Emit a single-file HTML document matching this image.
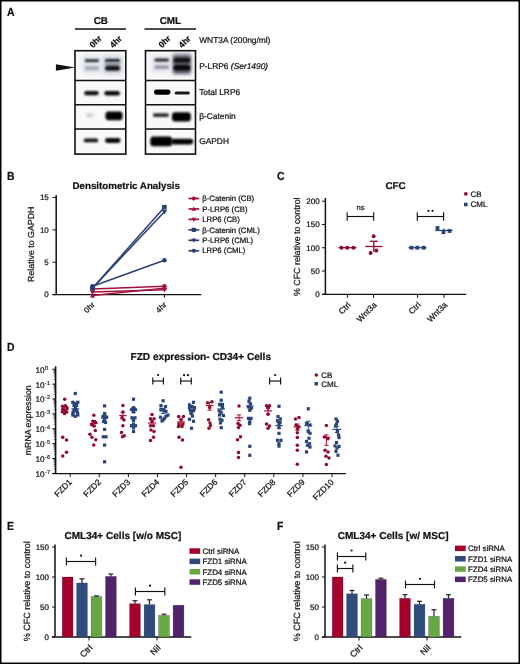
<!DOCTYPE html>
<html><head><meta charset="utf-8"><title>Figure</title>
<style>html,body{margin:0;padding:0;background:#fff;} svg{display:block;will-change:transform;} text{font-family:"Liberation Sans",sans-serif;text-rendering:geometricPrecision;}</style>
</head><body>
<svg width="520" height="664" viewBox="0 0 520 664" font-family="Liberation Sans, sans-serif"><defs><filter id="b3" x="-50%" y="-100%" width="200%" height="300%" color-interpolation-filters="sRGB"><feGaussianBlur stdDeviation="0.3"/></filter><filter id="b4" x="-50%" y="-100%" width="200%" height="300%" color-interpolation-filters="sRGB"><feGaussianBlur stdDeviation="0.4"/></filter><filter id="b5" x="-50%" y="-100%" width="200%" height="300%" color-interpolation-filters="sRGB"><feGaussianBlur stdDeviation="0.5"/></filter><filter id="b6" x="-50%" y="-100%" width="200%" height="300%" color-interpolation-filters="sRGB"><feGaussianBlur stdDeviation="0.6"/></filter><filter id="b7" x="-50%" y="-100%" width="200%" height="300%" color-interpolation-filters="sRGB"><feGaussianBlur stdDeviation="0.7"/></filter><filter id="b8" x="-50%" y="-100%" width="200%" height="300%" color-interpolation-filters="sRGB"><feGaussianBlur stdDeviation="0.8"/></filter><filter id="b9" x="-50%" y="-100%" width="200%" height="300%" color-interpolation-filters="sRGB"><feGaussianBlur stdDeviation="0.9"/></filter><filter id="b10" x="-50%" y="-100%" width="200%" height="300%" color-interpolation-filters="sRGB"><feGaussianBlur stdDeviation="1.0"/></filter><filter id="b11" x="-50%" y="-100%" width="200%" height="300%" color-interpolation-filters="sRGB"><feGaussianBlur stdDeviation="1.1"/></filter><filter id="b12" x="-50%" y="-100%" width="200%" height="300%" color-interpolation-filters="sRGB"><feGaussianBlur stdDeviation="1.2"/></filter><filter id="b13" x="-50%" y="-100%" width="200%" height="300%" color-interpolation-filters="sRGB"><feGaussianBlur stdDeviation="1.3"/></filter><filter id="b14" x="-50%" y="-100%" width="200%" height="300%" color-interpolation-filters="sRGB"><feGaussianBlur stdDeviation="1.4"/></filter><filter id="b15" x="-50%" y="-100%" width="200%" height="300%" color-interpolation-filters="sRGB"><feGaussianBlur stdDeviation="1.5"/></filter><filter id="b16" x="-50%" y="-100%" width="200%" height="300%" color-interpolation-filters="sRGB"><feGaussianBlur stdDeviation="1.6"/></filter><filter id="b17" x="-50%" y="-100%" width="200%" height="300%" color-interpolation-filters="sRGB"><feGaussianBlur stdDeviation="1.7"/></filter><filter id="b18" x="-50%" y="-100%" width="200%" height="300%" color-interpolation-filters="sRGB"><feGaussianBlur stdDeviation="1.8"/></filter><filter id="b19" x="-50%" y="-100%" width="200%" height="300%" color-interpolation-filters="sRGB"><feGaussianBlur stdDeviation="1.9"/></filter><filter id="b20" x="-50%" y="-100%" width="200%" height="300%" color-interpolation-filters="sRGB"><feGaussianBlur stdDeviation="2.0"/></filter><filter id="b21" x="-50%" y="-100%" width="200%" height="300%" color-interpolation-filters="sRGB"><feGaussianBlur stdDeviation="2.1"/></filter><filter id="b22" x="-50%" y="-100%" width="200%" height="300%" color-interpolation-filters="sRGB"><feGaussianBlur stdDeviation="2.2"/></filter><filter id="b23" x="-50%" y="-100%" width="200%" height="300%" color-interpolation-filters="sRGB"><feGaussianBlur stdDeviation="2.3"/></filter><filter id="b24" x="-50%" y="-100%" width="200%" height="300%" color-interpolation-filters="sRGB"><feGaussianBlur stdDeviation="2.4"/></filter><filter id="b25" x="-50%" y="-100%" width="200%" height="300%" color-interpolation-filters="sRGB"><feGaussianBlur stdDeviation="2.5"/></filter><filter id="b26" x="-50%" y="-100%" width="200%" height="300%" color-interpolation-filters="sRGB"><feGaussianBlur stdDeviation="2.6"/></filter><filter id="b27" x="-50%" y="-100%" width="200%" height="300%" color-interpolation-filters="sRGB"><feGaussianBlur stdDeviation="2.7"/></filter><filter id="b28" x="-50%" y="-100%" width="200%" height="300%" color-interpolation-filters="sRGB"><feGaussianBlur stdDeviation="2.8"/></filter><filter id="b29" x="-50%" y="-100%" width="200%" height="300%" color-interpolation-filters="sRGB"><feGaussianBlur stdDeviation="2.9"/></filter><filter id="b30" x="-50%" y="-100%" width="200%" height="300%" color-interpolation-filters="sRGB"><feGaussianBlur stdDeviation="3.0"/></filter></defs><rect x="0" y="0" width="520" height="664" fill="#fff"/><text x="0" y="0" font-size="10.6" font-weight="bold" fill="#111" stroke="#111" stroke-width="0.22" transform="translate(7 15.8) scale(0.98 1.1)">A</text>
<text x="100.8" y="24" font-size="9.9" font-weight="bold" text-anchor="middle" fill="#111" stroke="#111" stroke-width="0.22">CB</text>
<text x="170.4" y="24" font-size="9.9" font-weight="bold" text-anchor="middle" fill="#111" stroke="#111" stroke-width="0.22">CML</text>
<line x1="75" y1="29" x2="126" y2="29" stroke="#111" stroke-width="1.3"/>
<line x1="144.5" y1="29" x2="196" y2="29" stroke="#111" stroke-width="1.3"/>
<text x="93.0" y="48.2" font-size="8.5" font-weight="bold" text-anchor="start" fill="#111" stroke="#111" stroke-width="0.22" transform="rotate(-45 93.0 48.2)">0hr</text>
<text x="113.2" y="48.4" font-size="8.5" font-weight="bold" text-anchor="start" fill="#111" stroke="#111" stroke-width="0.22" transform="rotate(-45 113.2 48.4)">4hr</text>
<text x="162.0" y="48.2" font-size="8.5" font-weight="bold" text-anchor="start" fill="#111" stroke="#111" stroke-width="0.22" transform="rotate(-45 162.0 48.2)">0hr</text>
<text x="182.1" y="48.4" font-size="8.5" font-weight="bold" text-anchor="start" fill="#111" stroke="#111" stroke-width="0.22" transform="rotate(-45 182.1 48.4)">4hr</text>
<polygon points="55.9,64.2 75.2,67.4 55.9,70.7" fill="#111"/>
<text x="199.2" y="43" font-size="8.4" text-anchor="start" fill="#111" stroke="#111" stroke-width="0.22">WNT3A (200ng/ml)</text>
<text x="199.2" y="68.6" font-size="8.4" fill="#111" stroke="#111" stroke-width="0.22">P-LRP6 <tspan font-style="italic">(Ser1490)</tspan></text>
<text x="199.2" y="95.4" font-size="8.4" text-anchor="start" fill="#111" stroke="#111" stroke-width="0.22">Total LRP6</text>
<text x="199.2" y="119.4" font-size="8.4" text-anchor="start" fill="#111" stroke="#111" stroke-width="0.22">β-Catenin</text>
<text x="199.2" y="143.8" font-size="8.4" text-anchor="start" fill="#111" stroke="#111" stroke-width="0.22">GAPDH</text>
<rect x="75" y="50.7" width="50.8" height="103.4" fill="#f9f9fa"/>
<rect x="145.5" y="50.7" width="50.0" height="103.4" fill="#f9f9fa"/>
<rect x="82" y="55" width="19" height="19" rx="3" fill="#e2e5ec" filter="url(#b22)"/>
<rect x="102" y="55" width="21" height="20" rx="3" fill="#d2d6e0" filter="url(#b22)"/>
<rect x="151" y="55" width="21" height="18" rx="3" fill="#e4e6ec" filter="url(#b22)"/>
<rect x="172" y="53" width="20" height="22" rx="3" fill="#a4a6b0" filter="url(#b18)"/>
<rect x="84.7" y="59.2" width="14.299999999999997" height="2.8999999999999986" rx="1.4499999999999993" fill="#26262e" filter="url(#b8)"/>
<rect x="84.7" y="66.3" width="14.299999999999997" height="3.9000000000000057" rx="1.9500000000000028" fill="#a8a8b4" filter="url(#b11)"/>
<rect x="105" y="59.1" width="15" height="3.299999999999997" rx="1.6499999999999986" fill="#1e1e26" filter="url(#b8)"/>
<rect x="105" y="62" width="15" height="4.5" rx="2.25" fill="#9a9ca8" filter="url(#b10)"/>
<rect x="105" y="65.8" width="15" height="5.0" rx="2.5" fill="#141418" filter="url(#b8)"/>
<rect x="154.4" y="58.6" width="14.599999999999994" height="3.0" rx="1.5" fill="#202026" filter="url(#b8)"/>
<rect x="154.4" y="65.5" width="14.599999999999994" height="3.299999999999997" rx="1.6499999999999986" fill="#8e8e9a" filter="url(#b9)"/>
<rect x="173.6" y="55.5" width="16.599999999999994" height="17.700000000000003" rx="3" fill="#62646e" filter="url(#b13)"/>
<rect x="173.6" y="58" width="16.599999999999994" height="4.5" rx="2.25" fill="#0c0c10" filter="url(#b9)"/>
<rect x="173.6" y="65" width="16.599999999999994" height="5.5" rx="2.75" fill="#060608" filter="url(#b9)"/>
<rect x="84.2" y="91.1" width="14.5" height="4.200000000000003" rx="2.1000000000000014" fill="#0c0c0e" filter="url(#b8)"/>
<rect x="104.3" y="90.9" width="15.700000000000003" height="4.5" rx="2.25" fill="#060608" filter="url(#b8)"/>
<rect x="154" y="89.4" width="16.400000000000006" height="5.3999999999999915" rx="2.6999999999999957" fill="#000000" filter="url(#b7)"/>
<rect x="174.6" y="91.5" width="15.200000000000017" height="3.0" rx="1.5" fill="#1a1a20" filter="url(#b6)"/>
<rect x="86" y="113.2" width="7.400000000000006" height="4.3999999999999915" rx="2.1999999999999957" fill="#d0d0d8" filter="url(#b12)"/>
<rect x="105.5" y="111.4" width="17.0" height="8.799999999999997" rx="3" fill="#000000" filter="url(#b8)"/>
<rect x="152.75" y="113.2" width="16.25" height="3.799999999999997" rx="1.8999999999999986" fill="#2a2a32" filter="url(#b9)"/>
<rect x="172" y="112.2" width="18.80000000000001" height="9.200000000000003" rx="3" fill="#000000" filter="url(#b8)"/>
<rect x="83.7" y="138.5" width="14.5" height="3.8000000000000114" rx="1.9000000000000057" fill="#101012" filter="url(#b8)"/>
<rect x="105" y="138.1" width="15.5" height="4.800000000000011" rx="2.4000000000000057" fill="#060608" filter="url(#b8)"/>
<rect x="150.3" y="136.6" width="21.799999999999983" height="9.599999999999994" rx="3" fill="#000000" filter="url(#b8)"/>
<rect x="171" y="138.8" width="22.19999999999999" height="5.599999999999994" rx="2.799999999999997" fill="#000000" filter="url(#b8)"/>
<rect x="75" y="50.7" width="50.8" height="103.4" fill="none" stroke="#111" stroke-width="1.6"/>
<line x1="75" y1="80.5" x2="125.8" y2="80.5" stroke="#111" stroke-width="1.6"/>
<line x1="75" y1="104.75" x2="125.8" y2="104.75" stroke="#111" stroke-width="1.6"/>
<line x1="75" y1="129" x2="125.8" y2="129" stroke="#111" stroke-width="1.6"/>
<rect x="145.5" y="50.7" width="50.0" height="103.4" fill="none" stroke="#111" stroke-width="1.6"/>
<line x1="145.5" y1="80.5" x2="195.5" y2="80.5" stroke="#111" stroke-width="1.6"/>
<line x1="145.5" y1="104.75" x2="195.5" y2="104.75" stroke="#111" stroke-width="1.6"/>
<line x1="145.5" y1="129" x2="195.5" y2="129" stroke="#111" stroke-width="1.6"/>
<text x="0" y="0" font-size="10.6" font-weight="bold" fill="#111" stroke="#111" stroke-width="0.22" transform="translate(7 179.8) scale(0.98 1.1)">B</text>
<text x="72.5" y="189.3" font-size="9.75" font-weight="bold" text-anchor="start" fill="#111" stroke="#111" stroke-width="0.22">Densitometric Analysis</text>
<line x1="56.2" y1="195" x2="56.2" y2="294.6" stroke="#111" stroke-width="1.5"/>
<line x1="52.5" y1="294.6" x2="201.2" y2="294.6" stroke="#111" stroke-width="1.3"/>
<line x1="52.5" y1="294.6" x2="56.2" y2="294.6" stroke="#111" stroke-width="1.0"/>
<text x="48.8" y="297.40000000000003" font-size="8" text-anchor="end" fill="#111" stroke="#111" stroke-width="0.22">0</text>
<line x1="52.5" y1="262.23" x2="56.2" y2="262.23" stroke="#111" stroke-width="1.0"/>
<text x="48.8" y="265.03000000000003" font-size="8" text-anchor="end" fill="#111" stroke="#111" stroke-width="0.22">5</text>
<line x1="52.5" y1="229.86" x2="56.2" y2="229.86" stroke="#111" stroke-width="1.0"/>
<text x="48.8" y="232.66000000000003" font-size="8" text-anchor="end" fill="#111" stroke="#111" stroke-width="0.22">10</text>
<line x1="52.5" y1="197.49000000000004" x2="56.2" y2="197.49000000000004" stroke="#111" stroke-width="1.0"/>
<text x="48.8" y="200.29000000000005" font-size="8" text-anchor="end" fill="#111" stroke="#111" stroke-width="0.22">15</text>
<text x="34.1" y="244.3" font-size="8.8" text-anchor="middle" fill="#111" stroke="#111" stroke-width="0.22" transform="rotate(-90 34.1 244.3)">Relative to GAPDH</text>
<line x1="92.5" y1="294.6" x2="92.5" y2="297.8" stroke="#111" stroke-width="1.0"/>
<line x1="164.4" y1="294.6" x2="164.4" y2="297.8" stroke="#111" stroke-width="1.0"/>
<text x="95.3" y="305.3" font-size="8" text-anchor="end" fill="#111" stroke="#111" stroke-width="0.22" transform="rotate(-45 95.3 305.3)">0hr</text>
<text x="167.20000000000002" y="305.3" font-size="8" text-anchor="end" fill="#111" stroke="#111" stroke-width="0.22" transform="rotate(-45 167.20000000000002 305.3)">4hr</text>
<line x1="92.5" y1="289.0971" x2="164.4" y2="286.1838" stroke="#a5103a" stroke-width="1.5"/>
<line x1="92.5" y1="295.5711" x2="164.4" y2="288.12600000000003" stroke="#a5103a" stroke-width="1.5"/>
<line x1="92.5" y1="292.0104" x2="164.4" y2="289.7445" stroke="#a5103a" stroke-width="1.5"/>
<line x1="92.5" y1="288.12600000000003" x2="164.4" y2="207.20100000000002" stroke="#283f72" stroke-width="1.5"/>
<line x1="92.5" y1="288.12600000000003" x2="164.4" y2="211.73280000000003" stroke="#283f72" stroke-width="1.5"/>
<line x1="92.5" y1="286.1838" x2="164.4" y2="260.2878" stroke="#283f72" stroke-width="1.5"/>
<circle cx="92.5" cy="289.0971" r="2.3" fill="#a5103a"/>
<circle cx="164.4" cy="286.1838" r="2.3" fill="#a5103a"/>
<polygon points="92.5,292.8111 95.03,297.4111 89.97,297.4111" fill="#a5103a"/>
<polygon points="164.4,285.36600000000004 166.93,289.966 161.87,289.966" fill="#a5103a"/>
<polygon points="92.5,294.7704 95.03,290.17040000000003 89.97,290.17040000000003" fill="#a5103a"/>
<polygon points="164.4,292.5045 166.93,287.90450000000004 161.87,287.90450000000004" fill="#a5103a"/>
<rect x="90.2" y="285.826" width="4.6" height="4.6" fill="#283f72"/>
<rect x="162.1" y="204.901" width="4.6" height="4.6" fill="#283f72"/>
<polygon points="92.5,290.886 95.03,286.28600000000006 89.97,286.28600000000006" fill="#283f72"/>
<polygon points="164.4,214.49280000000002 166.93,209.89280000000002 161.87,209.89280000000002" fill="#283f72"/>
<circle cx="92.5" cy="286.1838" r="2.3" fill="#283f72"/>
<circle cx="164.4" cy="260.2878" r="2.3" fill="#283f72"/>
<line x1="188.5" y1="198.5" x2="199.2" y2="198.5" stroke="#a5103a" stroke-width="1.7"/>
<circle cx="193.8" cy="198.5" r="2.1" fill="#a5103a"/>
<text x="202.3" y="201.2" font-size="7.75" text-anchor="start" fill="#111" stroke="#111" stroke-width="0.22">β-Catenin (CB)</text>
<line x1="188.5" y1="208.95" x2="199.2" y2="208.95" stroke="#a5103a" stroke-width="1.7"/>
<polygon points="193.8,206.42999999999998 196.11,210.63 191.49,210.63" fill="#a5103a"/>
<text x="202.3" y="211.64999999999998" font-size="7.75" text-anchor="start" fill="#111" stroke="#111" stroke-width="0.22">P-LRP6 (CB)</text>
<line x1="188.5" y1="219.4" x2="199.2" y2="219.4" stroke="#a5103a" stroke-width="1.7"/>
<polygon points="193.8,221.92000000000002 196.11,217.72 191.49,217.72" fill="#a5103a"/>
<text x="202.3" y="222.1" font-size="7.75" text-anchor="start" fill="#111" stroke="#111" stroke-width="0.22">LRP6 (CB)</text>
<line x1="188.5" y1="229.85" x2="199.2" y2="229.85" stroke="#283f72" stroke-width="1.7"/>
<rect x="191.70000000000002" y="227.75" width="4.2" height="4.2" fill="#283f72"/>
<text x="202.3" y="232.54999999999998" font-size="7.75" text-anchor="start" fill="#111" stroke="#111" stroke-width="0.22">β-Catenin (CML)</text>
<line x1="188.5" y1="240.3" x2="199.2" y2="240.3" stroke="#283f72" stroke-width="1.7"/>
<polygon points="193.8,242.82000000000002 196.11,238.62 191.49,238.62" fill="#283f72"/>
<text x="202.3" y="243.0" font-size="7.75" text-anchor="start" fill="#111" stroke="#111" stroke-width="0.22">P-LRP6 (CML)</text>
<line x1="188.5" y1="250.75" x2="199.2" y2="250.75" stroke="#283f72" stroke-width="1.7"/>
<circle cx="193.8" cy="250.75" r="2.1" fill="#283f72"/>
<text x="202.3" y="253.45" font-size="7.75" text-anchor="start" fill="#111" stroke="#111" stroke-width="0.22">LRP6 (CML)</text>
<text x="0" y="0" font-size="10.6" font-weight="bold" fill="#111" stroke="#111" stroke-width="0.22" transform="translate(277 179.8) scale(0.98 1.1)">C</text>
<text x="385.5" y="188.8" font-size="9.85" font-weight="bold" text-anchor="start" fill="#111" stroke="#111" stroke-width="0.22">CFC</text>
<line x1="325.4" y1="198" x2="325.4" y2="294.3" stroke="#111" stroke-width="1.5"/>
<line x1="322" y1="294.3" x2="466.3" y2="294.3" stroke="#111" stroke-width="1.3"/>
<line x1="322" y1="294.3" x2="325.4" y2="294.3" stroke="#111" stroke-width="1.0"/>
<text x="319.6" y="297.1" font-size="8" text-anchor="end" fill="#111" stroke="#111" stroke-width="0.22">0</text>
<line x1="322" y1="271.03000000000003" x2="325.4" y2="271.03000000000003" stroke="#111" stroke-width="1.0"/>
<text x="319.6" y="273.83000000000004" font-size="8" text-anchor="end" fill="#111" stroke="#111" stroke-width="0.22">50</text>
<line x1="322" y1="247.76000000000002" x2="325.4" y2="247.76000000000002" stroke="#111" stroke-width="1.0"/>
<text x="319.6" y="250.56000000000003" font-size="8" text-anchor="end" fill="#111" stroke="#111" stroke-width="0.22">100</text>
<line x1="322" y1="224.49" x2="325.4" y2="224.49" stroke="#111" stroke-width="1.0"/>
<text x="319.6" y="227.29000000000002" font-size="8" text-anchor="end" fill="#111" stroke="#111" stroke-width="0.22">150</text>
<line x1="322" y1="201.22000000000003" x2="325.4" y2="201.22000000000003" stroke="#111" stroke-width="1.0"/>
<text x="319.6" y="204.02000000000004" font-size="8" text-anchor="end" fill="#111" stroke="#111" stroke-width="0.22">200</text>
<text x="300.2" y="246.75" font-size="8.9" text-anchor="middle" fill="#111" stroke="#111" stroke-width="0.22" transform="rotate(-90 300.2 246.75)">% CFC relative to control</text>
<line x1="347.4" y1="294.3" x2="347.4" y2="297.8" stroke="#111" stroke-width="1.0"/>
<text x="351.2" y="305.5" font-size="8.4" text-anchor="end" fill="#111" stroke="#111" stroke-width="0.22" transform="rotate(-45 351.2 305.5)">Ctrl</text>
<line x1="373.5" y1="294.3" x2="373.5" y2="297.8" stroke="#111" stroke-width="1.0"/>
<text x="377.3" y="305.5" font-size="8.4" text-anchor="end" fill="#111" stroke="#111" stroke-width="0.22" transform="rotate(-45 377.3 305.5)">Wnt3a</text>
<line x1="417.5" y1="294.3" x2="417.5" y2="297.8" stroke="#111" stroke-width="1.0"/>
<text x="421.3" y="305.5" font-size="8.4" text-anchor="end" fill="#111" stroke="#111" stroke-width="0.22" transform="rotate(-45 421.3 305.5)">Ctrl</text>
<line x1="444" y1="294.3" x2="444" y2="297.8" stroke="#111" stroke-width="1.0"/>
<text x="447.8" y="305.5" font-size="8.4" text-anchor="end" fill="#111" stroke="#111" stroke-width="0.22" transform="rotate(-45 447.8 305.5)">Wnt3a</text>
<line x1="347.2" y1="216.5" x2="373.7" y2="216.5" stroke="#111" stroke-width="1.15"/>
<line x1="347.2" y1="212.3" x2="347.2" y2="220.7" stroke="#111" stroke-width="1.15"/>
<line x1="373.7" y1="212.3" x2="373.7" y2="220.7" stroke="#111" stroke-width="1.15"/>
<text x="360.45" y="210.4" font-size="7.6" text-anchor="middle" fill="#111" stroke="#111" stroke-width="0.22">ns</text>
<line x1="417.3" y1="216.5" x2="443.6" y2="216.5" stroke="#111" stroke-width="1.15"/>
<line x1="417.3" y1="212.3" x2="417.3" y2="220.7" stroke="#111" stroke-width="1.15"/>
<line x1="443.6" y1="212.3" x2="443.6" y2="220.7" stroke="#111" stroke-width="1.15"/>
<circle cx="428.35" cy="210.8" r="1.1" fill="#111"/>
<circle cx="432.55000000000007" cy="210.8" r="1.1" fill="#111"/>
<circle cx="465.8" cy="193.8" r="1.9" fill="#8e0a2e"/>
<text x="470.5" y="196.8" font-size="8" text-anchor="start" fill="#111" stroke="#111" stroke-width="0.22">CB</text>
<rect x="464" y="202.7" width="3.6" height="3.6" fill="#2a4475"/>
<text x="470.5" y="206.7" font-size="8" text-anchor="start" fill="#111" stroke="#111" stroke-width="0.22">CML</text>
<line x1="338.5" y1="247.7" x2="356.5" y2="247.7" stroke="#8e0a2e" stroke-width="1.3"/>
<circle cx="341.5" cy="247.7" r="2.0" fill="#8e0a2e"/>
<circle cx="347.3" cy="247.7" r="2.0" fill="#8e0a2e"/>
<circle cx="353.4" cy="247.7" r="2.0" fill="#8e0a2e"/>
<line x1="365.2" y1="246.5" x2="382.5" y2="246.5" stroke="#8e0a2e" stroke-width="1.3"/>
<line x1="373.8" y1="241.3" x2="373.8" y2="251.8" stroke="#8e0a2e" stroke-width="1.3"/>
<line x1="369.8" y1="241.3" x2="377.9" y2="241.3" stroke="#8e0a2e" stroke-width="1.3"/>
<circle cx="373.6" cy="236.2" r="2.0" fill="#8e0a2e"/>
<circle cx="370.6" cy="252.9" r="2.0" fill="#8e0a2e"/>
<circle cx="376.4" cy="250.6" r="2.0" fill="#8e0a2e"/>
<line x1="408.5" y1="247.7" x2="426.5" y2="247.7" stroke="#2a4475" stroke-width="1.3"/>
<rect x="409.6" y="245.79999999999998" width="3.8" height="3.8" fill="#2a4475"/>
<rect x="415.40000000000003" y="245.79999999999998" width="3.8" height="3.8" fill="#2a4475"/>
<rect x="421.8" y="245.79999999999998" width="3.8" height="3.8" fill="#2a4475"/>
<line x1="435.2" y1="230.4" x2="452.5" y2="230.4" stroke="#2a4475" stroke-width="1.3"/>
<line x1="443.8" y1="228.5" x2="443.8" y2="232.5" stroke="#2a4475" stroke-width="1.3"/>
<rect x="435.6" y="226.1" width="3.8" height="3.8" fill="#2a4475"/>
<rect x="441.6" y="230.29999999999998" width="3.8" height="3.8" fill="#2a4475"/>
<rect x="447.6" y="229.1" width="3.8" height="3.8" fill="#2a4475"/>
<text x="0" y="0" font-size="10.6" font-weight="bold" fill="#111" stroke="#111" stroke-width="0.22" transform="translate(7 351) scale(0.98 1.1)">D</text>
<text x="130.5" y="360.3" font-size="10.1" font-weight="bold" text-anchor="start" fill="#111" stroke="#111" stroke-width="0.22">FZD expression- CD34+ Cells</text>
<line x1="55.6" y1="366.3" x2="55.6" y2="473.6" stroke="#111" stroke-width="1.6"/>
<line x1="52.3" y1="473.6" x2="346" y2="473.6" stroke="#111" stroke-width="1.3"/>
<line x1="52.3" y1="369.25" x2="55.6" y2="369.25" stroke="#111" stroke-width="1.0"/>
<text x="44.6" y="372.65" font-size="8.2" text-anchor="end" fill="#111" stroke="#111" stroke-width="0.22">10</text>
<text x="45.1" y="369.65" font-size="5.6" fill="#111" stroke="#111" stroke-width="0.15">0</text>
<line x1="53.6" y1="379.65067366451996" x2="55.6" y2="379.65067366451996" stroke="#111" stroke-width="0.6"/>
<line x1="53.6" y1="377.0304357297714" x2="55.6" y2="377.0304357297714" stroke="#111" stroke-width="0.6"/>
<line x1="53.6" y1="375.1713473290399" x2="55.6" y2="375.1713473290399" stroke="#111" stroke-width="0.6"/>
<line x1="53.6" y1="373.72932633548004" x2="55.6" y2="373.72932633548004" stroke="#111" stroke-width="0.6"/>
<line x1="53.6" y1="372.55110939429136" x2="55.6" y2="372.55110939429136" stroke="#111" stroke-width="0.6"/>
<line x1="53.6" y1="371.55494116458783" x2="55.6" y2="371.55494116458783" stroke="#111" stroke-width="0.6"/>
<line x1="53.6" y1="370.6920209935599" x2="55.6" y2="370.6920209935599" stroke="#111" stroke-width="0.6"/>
<line x1="53.6" y1="369.93087145954286" x2="55.6" y2="369.93087145954286" stroke="#111" stroke-width="0.6"/>
<line x1="52.3" y1="384.13" x2="55.6" y2="384.13" stroke="#111" stroke-width="1.0"/>
<text x="44.6" y="387.53" font-size="8.2" text-anchor="end" fill="#111" stroke="#111" stroke-width="0.22">10</text>
<text x="45.1" y="384.53" font-size="5.6" fill="#111" stroke="#111" stroke-width="0.15">-1</text>
<line x1="53.6" y1="394.53067366451995" x2="55.6" y2="394.53067366451995" stroke="#111" stroke-width="0.6"/>
<line x1="53.6" y1="391.9104357297714" x2="55.6" y2="391.9104357297714" stroke="#111" stroke-width="0.6"/>
<line x1="53.6" y1="390.0513473290399" x2="55.6" y2="390.0513473290399" stroke="#111" stroke-width="0.6"/>
<line x1="53.6" y1="388.60932633548003" x2="55.6" y2="388.60932633548003" stroke="#111" stroke-width="0.6"/>
<line x1="53.6" y1="387.43110939429135" x2="55.6" y2="387.43110939429135" stroke="#111" stroke-width="0.6"/>
<line x1="53.6" y1="386.4349411645878" x2="55.6" y2="386.4349411645878" stroke="#111" stroke-width="0.6"/>
<line x1="53.6" y1="385.5720209935599" x2="55.6" y2="385.5720209935599" stroke="#111" stroke-width="0.6"/>
<line x1="53.6" y1="384.81087145954285" x2="55.6" y2="384.81087145954285" stroke="#111" stroke-width="0.6"/>
<line x1="52.3" y1="399.01" x2="55.6" y2="399.01" stroke="#111" stroke-width="1.0"/>
<text x="44.6" y="402.40999999999997" font-size="8.2" text-anchor="end" fill="#111" stroke="#111" stroke-width="0.22">10</text>
<text x="45.1" y="399.40999999999997" font-size="5.6" fill="#111" stroke="#111" stroke-width="0.15">-2</text>
<line x1="53.6" y1="409.41067366451995" x2="55.6" y2="409.41067366451995" stroke="#111" stroke-width="0.6"/>
<line x1="53.6" y1="406.7904357297714" x2="55.6" y2="406.7904357297714" stroke="#111" stroke-width="0.6"/>
<line x1="53.6" y1="404.9313473290399" x2="55.6" y2="404.9313473290399" stroke="#111" stroke-width="0.6"/>
<line x1="53.6" y1="403.48932633548003" x2="55.6" y2="403.48932633548003" stroke="#111" stroke-width="0.6"/>
<line x1="53.6" y1="402.31110939429135" x2="55.6" y2="402.31110939429135" stroke="#111" stroke-width="0.6"/>
<line x1="53.6" y1="401.3149411645878" x2="55.6" y2="401.3149411645878" stroke="#111" stroke-width="0.6"/>
<line x1="53.6" y1="400.45202099355987" x2="55.6" y2="400.45202099355987" stroke="#111" stroke-width="0.6"/>
<line x1="53.6" y1="399.69087145954285" x2="55.6" y2="399.69087145954285" stroke="#111" stroke-width="0.6"/>
<line x1="52.3" y1="413.89" x2="55.6" y2="413.89" stroke="#111" stroke-width="1.0"/>
<text x="44.6" y="417.28999999999996" font-size="8.2" text-anchor="end" fill="#111" stroke="#111" stroke-width="0.22">10</text>
<text x="45.1" y="414.28999999999996" font-size="5.6" fill="#111" stroke="#111" stroke-width="0.15">-3</text>
<line x1="53.6" y1="424.29067366451994" x2="55.6" y2="424.29067366451994" stroke="#111" stroke-width="0.6"/>
<line x1="53.6" y1="421.6704357297714" x2="55.6" y2="421.6704357297714" stroke="#111" stroke-width="0.6"/>
<line x1="53.6" y1="419.8113473290399" x2="55.6" y2="419.8113473290399" stroke="#111" stroke-width="0.6"/>
<line x1="53.6" y1="418.36932633548" x2="55.6" y2="418.36932633548" stroke="#111" stroke-width="0.6"/>
<line x1="53.6" y1="417.19110939429135" x2="55.6" y2="417.19110939429135" stroke="#111" stroke-width="0.6"/>
<line x1="53.6" y1="416.1949411645878" x2="55.6" y2="416.1949411645878" stroke="#111" stroke-width="0.6"/>
<line x1="53.6" y1="415.33202099355987" x2="55.6" y2="415.33202099355987" stroke="#111" stroke-width="0.6"/>
<line x1="53.6" y1="414.57087145954284" x2="55.6" y2="414.57087145954284" stroke="#111" stroke-width="0.6"/>
<line x1="52.3" y1="428.77" x2="55.6" y2="428.77" stroke="#111" stroke-width="1.0"/>
<text x="44.6" y="432.16999999999996" font-size="8.2" text-anchor="end" fill="#111" stroke="#111" stroke-width="0.22">10</text>
<text x="45.1" y="429.16999999999996" font-size="5.6" fill="#111" stroke="#111" stroke-width="0.15">-4</text>
<line x1="53.6" y1="439.17067366451994" x2="55.6" y2="439.17067366451994" stroke="#111" stroke-width="0.6"/>
<line x1="53.6" y1="436.5504357297714" x2="55.6" y2="436.5504357297714" stroke="#111" stroke-width="0.6"/>
<line x1="53.6" y1="434.6913473290399" x2="55.6" y2="434.6913473290399" stroke="#111" stroke-width="0.6"/>
<line x1="53.6" y1="433.24932633548" x2="55.6" y2="433.24932633548" stroke="#111" stroke-width="0.6"/>
<line x1="53.6" y1="432.07110939429134" x2="55.6" y2="432.07110939429134" stroke="#111" stroke-width="0.6"/>
<line x1="53.6" y1="431.0749411645878" x2="55.6" y2="431.0749411645878" stroke="#111" stroke-width="0.6"/>
<line x1="53.6" y1="430.21202099355986" x2="55.6" y2="430.21202099355986" stroke="#111" stroke-width="0.6"/>
<line x1="53.6" y1="429.45087145954284" x2="55.6" y2="429.45087145954284" stroke="#111" stroke-width="0.6"/>
<line x1="52.3" y1="443.65" x2="55.6" y2="443.65" stroke="#111" stroke-width="1.0"/>
<text x="44.6" y="447.04999999999995" font-size="8.2" text-anchor="end" fill="#111" stroke="#111" stroke-width="0.22">10</text>
<text x="45.1" y="444.04999999999995" font-size="5.6" fill="#111" stroke="#111" stroke-width="0.15">-5</text>
<line x1="53.6" y1="454.05067366451993" x2="55.6" y2="454.05067366451993" stroke="#111" stroke-width="0.6"/>
<line x1="53.6" y1="451.4304357297714" x2="55.6" y2="451.4304357297714" stroke="#111" stroke-width="0.6"/>
<line x1="53.6" y1="449.5713473290399" x2="55.6" y2="449.5713473290399" stroke="#111" stroke-width="0.6"/>
<line x1="53.6" y1="448.12932633548" x2="55.6" y2="448.12932633548" stroke="#111" stroke-width="0.6"/>
<line x1="53.6" y1="446.95110939429134" x2="55.6" y2="446.95110939429134" stroke="#111" stroke-width="0.6"/>
<line x1="53.6" y1="445.9549411645878" x2="55.6" y2="445.9549411645878" stroke="#111" stroke-width="0.6"/>
<line x1="53.6" y1="445.09202099355986" x2="55.6" y2="445.09202099355986" stroke="#111" stroke-width="0.6"/>
<line x1="53.6" y1="444.33087145954283" x2="55.6" y2="444.33087145954283" stroke="#111" stroke-width="0.6"/>
<line x1="52.3" y1="458.53" x2="55.6" y2="458.53" stroke="#111" stroke-width="1.0"/>
<text x="44.6" y="461.92999999999995" font-size="8.2" text-anchor="end" fill="#111" stroke="#111" stroke-width="0.22">10</text>
<text x="45.1" y="458.92999999999995" font-size="5.6" fill="#111" stroke="#111" stroke-width="0.15">-6</text>
<line x1="53.6" y1="468.93067366451993" x2="55.6" y2="468.93067366451993" stroke="#111" stroke-width="0.6"/>
<line x1="53.6" y1="466.31043572977137" x2="55.6" y2="466.31043572977137" stroke="#111" stroke-width="0.6"/>
<line x1="53.6" y1="464.4513473290399" x2="55.6" y2="464.4513473290399" stroke="#111" stroke-width="0.6"/>
<line x1="53.6" y1="463.00932633548" x2="55.6" y2="463.00932633548" stroke="#111" stroke-width="0.6"/>
<line x1="53.6" y1="461.83110939429133" x2="55.6" y2="461.83110939429133" stroke="#111" stroke-width="0.6"/>
<line x1="53.6" y1="460.8349411645878" x2="55.6" y2="460.8349411645878" stroke="#111" stroke-width="0.6"/>
<line x1="53.6" y1="459.97202099355985" x2="55.6" y2="459.97202099355985" stroke="#111" stroke-width="0.6"/>
<line x1="53.6" y1="459.21087145954283" x2="55.6" y2="459.21087145954283" stroke="#111" stroke-width="0.6"/>
<line x1="52.3" y1="473.41" x2="55.6" y2="473.41" stroke="#111" stroke-width="1.0"/>
<text x="44.6" y="476.81" font-size="8.2" text-anchor="end" fill="#111" stroke="#111" stroke-width="0.22">10</text>
<text x="45.1" y="473.81" font-size="5.6" fill="#111" stroke="#111" stroke-width="0.15">-7</text>
<text x="30.6" y="420.25" font-size="8.74" text-anchor="middle" fill="#111" stroke="#111" stroke-width="0.22" transform="rotate(-90 30.6 420.25)">mRNA expression</text>
<line x1="70.2" y1="473.6" x2="70.2" y2="477" stroke="#111" stroke-width="1.0"/>
<text x="72.5" y="482.6" font-size="8.4" text-anchor="end" fill="#111" stroke="#111" stroke-width="0.22" transform="rotate(-45 72.5 482.6)">FZD1</text>
<line x1="99.29" y1="473.6" x2="99.29" y2="477" stroke="#111" stroke-width="1.0"/>
<text x="101.59" y="482.6" font-size="8.4" text-anchor="end" fill="#111" stroke="#111" stroke-width="0.22" transform="rotate(-45 101.59 482.6)">FZD2</text>
<line x1="128.38" y1="473.6" x2="128.38" y2="477" stroke="#111" stroke-width="1.0"/>
<text x="130.68" y="482.6" font-size="8.4" text-anchor="end" fill="#111" stroke="#111" stroke-width="0.22" transform="rotate(-45 130.68 482.6)">FZD3</text>
<line x1="157.47" y1="473.6" x2="157.47" y2="477" stroke="#111" stroke-width="1.0"/>
<text x="159.77" y="482.6" font-size="8.4" text-anchor="end" fill="#111" stroke="#111" stroke-width="0.22" transform="rotate(-45 159.77 482.6)">FZD4</text>
<line x1="186.56" y1="473.6" x2="186.56" y2="477" stroke="#111" stroke-width="1.0"/>
<text x="188.86" y="482.6" font-size="8.4" text-anchor="end" fill="#111" stroke="#111" stroke-width="0.22" transform="rotate(-45 188.86 482.6)">FZD5</text>
<line x1="215.64999999999998" y1="473.6" x2="215.64999999999998" y2="477" stroke="#111" stroke-width="1.0"/>
<text x="217.95" y="482.6" font-size="8.4" text-anchor="end" fill="#111" stroke="#111" stroke-width="0.22" transform="rotate(-45 217.95 482.6)">FZD6</text>
<line x1="244.74" y1="473.6" x2="244.74" y2="477" stroke="#111" stroke-width="1.0"/>
<text x="247.04000000000002" y="482.6" font-size="8.4" text-anchor="end" fill="#111" stroke="#111" stroke-width="0.22" transform="rotate(-45 247.04000000000002 482.6)">FZD7</text>
<line x1="273.83" y1="473.6" x2="273.83" y2="477" stroke="#111" stroke-width="1.0"/>
<text x="276.13" y="482.6" font-size="8.4" text-anchor="end" fill="#111" stroke="#111" stroke-width="0.22" transform="rotate(-45 276.13 482.6)">FZD8</text>
<line x1="302.92" y1="473.6" x2="302.92" y2="477" stroke="#111" stroke-width="1.0"/>
<text x="305.22" y="482.6" font-size="8.4" text-anchor="end" fill="#111" stroke="#111" stroke-width="0.22" transform="rotate(-45 305.22 482.6)">FZD9</text>
<line x1="332.01" y1="473.6" x2="332.01" y2="477" stroke="#111" stroke-width="1.0"/>
<text x="334.31" y="482.6" font-size="8.4" text-anchor="end" fill="#111" stroke="#111" stroke-width="0.22" transform="rotate(-45 334.31 482.6)">FZD10</text>
<circle cx="316.3" cy="375" r="1.8" fill="#8e0a2e"/>
<text x="321.3" y="377.8" font-size="8" text-anchor="start" fill="#111" stroke="#111" stroke-width="0.22">CB</text>
<rect x="314.5" y="382" width="3.5" height="3.5" fill="#2a4475"/>
<text x="321.3" y="386.6" font-size="8" text-anchor="start" fill="#111" stroke="#111" stroke-width="0.22">CML</text>
<line x1="152.8" y1="381" x2="163.4" y2="381" stroke="#111" stroke-width="1.15"/>
<line x1="152.8" y1="377.6" x2="152.8" y2="384.4" stroke="#111" stroke-width="1.15"/>
<line x1="163.4" y1="377.6" x2="163.4" y2="384.4" stroke="#111" stroke-width="1.15"/>
<circle cx="158.10000000000002" cy="375" r="1.12" fill="#111"/>
<line x1="180.7" y1="381" x2="191.3" y2="381" stroke="#111" stroke-width="1.15"/>
<line x1="180.7" y1="377.6" x2="180.7" y2="384.4" stroke="#111" stroke-width="1.15"/>
<line x1="191.3" y1="377.6" x2="191.3" y2="384.4" stroke="#111" stroke-width="1.15"/>
<circle cx="184.1" cy="375.2" r="1.12" fill="#111"/>
<circle cx="187.9" cy="375.2" r="1.12" fill="#111"/>
<line x1="269.6" y1="381" x2="280.6" y2="381" stroke="#111" stroke-width="1.15"/>
<line x1="269.6" y1="377.6" x2="269.6" y2="384.4" stroke="#111" stroke-width="1.15"/>
<line x1="280.6" y1="377.6" x2="280.6" y2="384.4" stroke="#111" stroke-width="1.15"/>
<circle cx="275.1" cy="375" r="1.12" fill="#111"/>
<line x1="60.7" y1="409.5" x2="68.7" y2="409.5" stroke="#b80c36" stroke-width="1.2"/>
<line x1="64.7" y1="407" x2="64.7" y2="412" stroke="#b80c36" stroke-width="1.0"/>
<line x1="62.5" y1="407" x2="66.9" y2="407" stroke="#b80c36" stroke-width="1.0"/>
<line x1="62.5" y1="412" x2="66.9" y2="412" stroke="#b80c36" stroke-width="1.0"/>
<line x1="71.3" y1="409" x2="79.3" y2="409" stroke="#2f4f86" stroke-width="1.2"/>
<line x1="75.3" y1="406" x2="75.3" y2="412" stroke="#2f4f86" stroke-width="1.0"/>
<line x1="73.1" y1="406" x2="77.5" y2="406" stroke="#2f4f86" stroke-width="1.0"/>
<line x1="73.1" y1="412" x2="77.5" y2="412" stroke="#2f4f86" stroke-width="1.0"/>
<circle cx="64.7" cy="399.3" r="1.75" fill="#8e0a2e"/>
<circle cx="62.5" cy="406.3" r="1.75" fill="#8e0a2e"/>
<circle cx="65.5" cy="405.8" r="1.75" fill="#8e0a2e"/>
<circle cx="67" cy="407.8" r="1.75" fill="#8e0a2e"/>
<circle cx="63" cy="409" r="1.75" fill="#8e0a2e"/>
<circle cx="65" cy="410.5" r="1.75" fill="#8e0a2e"/>
<circle cx="62.3" cy="411.8" r="1.75" fill="#8e0a2e"/>
<circle cx="66.8" cy="412" r="1.75" fill="#8e0a2e"/>
<circle cx="64.5" cy="413.6" r="1.75" fill="#8e0a2e"/>
<circle cx="62.7" cy="437.2" r="1.75" fill="#8e0a2e"/>
<circle cx="66.5" cy="440" r="1.75" fill="#8e0a2e"/>
<circle cx="66.5" cy="452.2" r="1.75" fill="#8e0a2e"/>
<circle cx="62.7" cy="456" r="1.75" fill="#8e0a2e"/>
<rect x="73.7" y="391.9" width="3.2" height="3.2" fill="#2a4475"/>
<rect x="71.2" y="400.7" width="3.2" height="3.2" fill="#2a4475"/>
<rect x="76.2" y="400.7" width="3.2" height="3.2" fill="#2a4475"/>
<rect x="73.7" y="401.9" width="3.2" height="3.2" fill="#2a4475"/>
<rect x="72.4" y="403.9" width="3.2" height="3.2" fill="#2a4475"/>
<rect x="75.0" y="403.9" width="3.2" height="3.2" fill="#2a4475"/>
<rect x="73.7" y="406.09999999999997" width="3.2" height="3.2" fill="#2a4475"/>
<rect x="72.4" y="408.4" width="3.2" height="3.2" fill="#2a4475"/>
<rect x="75.0" y="408.4" width="3.2" height="3.2" fill="#2a4475"/>
<rect x="71.4" y="410.9" width="3.2" height="3.2" fill="#2a4475"/>
<rect x="75.9" y="410.9" width="3.2" height="3.2" fill="#2a4475"/>
<rect x="71.2" y="413.4" width="3.2" height="3.2" fill="#2a4475"/>
<rect x="76.2" y="413.4" width="3.2" height="3.2" fill="#2a4475"/>
<rect x="73.7" y="414.7" width="3.2" height="3.2" fill="#2a4475"/>
<line x1="90.0" y1="423.5" x2="97.6" y2="423.5" stroke="#b80c36" stroke-width="1.2"/>
<line x1="93.8" y1="420.5" x2="93.8" y2="426.5" stroke="#b80c36" stroke-width="1.0"/>
<line x1="91.6" y1="420.5" x2="96.0" y2="420.5" stroke="#b80c36" stroke-width="1.0"/>
<line x1="91.6" y1="426.5" x2="96.0" y2="426.5" stroke="#b80c36" stroke-width="1.0"/>
<line x1="100.8" y1="418" x2="108.39999999999999" y2="418" stroke="#2f4f86" stroke-width="1.2"/>
<line x1="104.6" y1="415" x2="104.6" y2="421" stroke="#2f4f86" stroke-width="1.0"/>
<line x1="102.39999999999999" y1="415" x2="106.8" y2="415" stroke="#2f4f86" stroke-width="1.0"/>
<line x1="102.39999999999999" y1="421" x2="106.8" y2="421" stroke="#2f4f86" stroke-width="1.0"/>
<circle cx="93.8" cy="415.2" r="1.75" fill="#8e0a2e"/>
<circle cx="93" cy="421.2" r="1.75" fill="#8e0a2e"/>
<circle cx="95.6" cy="422.6" r="1.75" fill="#8e0a2e"/>
<circle cx="91.6" cy="424.4" r="1.75" fill="#8e0a2e"/>
<circle cx="94.2" cy="426" r="1.75" fill="#8e0a2e"/>
<circle cx="95.3" cy="430.4" r="1.75" fill="#8e0a2e"/>
<circle cx="89.9" cy="434.3" r="1.75" fill="#8e0a2e"/>
<circle cx="91.9" cy="437.3" r="1.75" fill="#8e0a2e"/>
<circle cx="95.8" cy="439.7" r="1.75" fill="#8e0a2e"/>
<circle cx="93.8" cy="445.1" r="1.75" fill="#8e0a2e"/>
<rect x="103.0" y="404.29999999999995" width="3.2" height="3.2" fill="#2a4475"/>
<rect x="103.0" y="411.9" width="3.2" height="3.2" fill="#2a4475"/>
<rect x="101.4" y="414.9" width="3.2" height="3.2" fill="#2a4475"/>
<rect x="104.9" y="415.4" width="3.2" height="3.2" fill="#2a4475"/>
<rect x="103.0" y="417.4" width="3.2" height="3.2" fill="#2a4475"/>
<rect x="101.9" y="419.9" width="3.2" height="3.2" fill="#2a4475"/>
<rect x="103.9" y="420.9" width="3.2" height="3.2" fill="#2a4475"/>
<rect x="103.0" y="427.79999999999995" width="3.2" height="3.2" fill="#2a4475"/>
<rect x="101.7" y="435.2" width="3.2" height="3.2" fill="#2a4475"/>
<rect x="104.4" y="435.2" width="3.2" height="3.2" fill="#2a4475"/>
<rect x="103.0" y="443.5" width="3.2" height="3.2" fill="#2a4475"/>
<rect x="103.0" y="460.2" width="3.2" height="3.2" fill="#2a4475"/>
<line x1="119.2" y1="415.6" x2="126.60000000000001" y2="415.6" stroke="#b80c36" stroke-width="1.2"/>
<line x1="122.9" y1="412.5" x2="122.9" y2="419" stroke="#b80c36" stroke-width="1.0"/>
<line x1="120.7" y1="412.5" x2="125.10000000000001" y2="412.5" stroke="#b80c36" stroke-width="1.0"/>
<line x1="120.7" y1="419" x2="125.10000000000001" y2="419" stroke="#b80c36" stroke-width="1.0"/>
<line x1="129.5" y1="410" x2="137.5" y2="410" stroke="#2f4f86" stroke-width="1.2"/>
<line x1="133.5" y1="407.5" x2="133.5" y2="412.5" stroke="#2f4f86" stroke-width="1.0"/>
<line x1="131.3" y1="407.5" x2="135.7" y2="407.5" stroke="#2f4f86" stroke-width="1.0"/>
<line x1="131.3" y1="412.5" x2="135.7" y2="412.5" stroke="#2f4f86" stroke-width="1.0"/>
<circle cx="122.9" cy="405.4" r="1.75" fill="#8e0a2e"/>
<circle cx="122.9" cy="411.9" r="1.75" fill="#8e0a2e"/>
<circle cx="122" cy="417.8" r="1.75" fill="#8e0a2e"/>
<circle cx="124" cy="419.9" r="1.75" fill="#8e0a2e"/>
<circle cx="122.9" cy="425.7" r="1.75" fill="#8e0a2e"/>
<circle cx="121.5" cy="432.6" r="1.75" fill="#8e0a2e"/>
<circle cx="124.2" cy="435.7" r="1.75" fill="#8e0a2e"/>
<circle cx="122.5" cy="436.8" r="1.75" fill="#8e0a2e"/>
<rect x="131.9" y="397.59999999999997" width="3.2" height="3.2" fill="#2a4475"/>
<rect x="131.9" y="406.09999999999997" width="3.2" height="3.2" fill="#2a4475"/>
<rect x="130.20000000000002" y="408.0" width="3.2" height="3.2" fill="#2a4475"/>
<rect x="133.6" y="408.0" width="3.2" height="3.2" fill="#2a4475"/>
<rect x="131.9" y="410.29999999999995" width="3.2" height="3.2" fill="#2a4475"/>
<rect x="130.4" y="416.2" width="3.2" height="3.2" fill="#2a4475"/>
<rect x="133.4" y="416.2" width="3.2" height="3.2" fill="#2a4475"/>
<rect x="131.9" y="418.79999999999995" width="3.2" height="3.2" fill="#2a4475"/>
<rect x="131.9" y="422.5" width="3.2" height="3.2" fill="#2a4475"/>
<rect x="129.9" y="424.09999999999997" width="3.2" height="3.2" fill="#2a4475"/>
<rect x="133.9" y="424.09999999999997" width="3.2" height="3.2" fill="#2a4475"/>
<rect x="131.9" y="426.2" width="3.2" height="3.2" fill="#2a4475"/>
<rect x="131.9" y="429.9" width="3.2" height="3.2" fill="#2a4475"/>
<line x1="148" y1="423" x2="156" y2="423" stroke="#b80c36" stroke-width="1.2"/>
<line x1="152" y1="420" x2="152" y2="426" stroke="#b80c36" stroke-width="1.0"/>
<line x1="149.8" y1="420" x2="154.2" y2="420" stroke="#b80c36" stroke-width="1.0"/>
<line x1="149.8" y1="426" x2="154.2" y2="426" stroke="#b80c36" stroke-width="1.0"/>
<line x1="159.29999999999998" y1="411" x2="166.9" y2="411" stroke="#2f4f86" stroke-width="1.2"/>
<line x1="163.1" y1="408.5" x2="163.1" y2="413.5" stroke="#2f4f86" stroke-width="1.0"/>
<line x1="160.9" y1="408.5" x2="165.29999999999998" y2="408.5" stroke="#2f4f86" stroke-width="1.0"/>
<line x1="160.9" y1="413.5" x2="165.29999999999998" y2="413.5" stroke="#2f4f86" stroke-width="1.0"/>
<circle cx="152" cy="414.6" r="1.75" fill="#8e0a2e"/>
<circle cx="150.5" cy="418.8" r="1.75" fill="#8e0a2e"/>
<circle cx="154" cy="418.8" r="1.75" fill="#8e0a2e"/>
<circle cx="152" cy="421.5" r="1.75" fill="#8e0a2e"/>
<circle cx="150.5" cy="425.7" r="1.75" fill="#8e0a2e"/>
<circle cx="153.5" cy="425.7" r="1.75" fill="#8e0a2e"/>
<circle cx="151" cy="429.9" r="1.75" fill="#8e0a2e"/>
<circle cx="154" cy="431.5" r="1.75" fill="#8e0a2e"/>
<circle cx="153.5" cy="437.3" r="1.75" fill="#8e0a2e"/>
<circle cx="150.5" cy="440.5" r="1.75" fill="#8e0a2e"/>
<rect x="161.5" y="399.2" width="3.2" height="3.2" fill="#2a4475"/>
<rect x="159.4" y="404.0" width="3.2" height="3.2" fill="#2a4475"/>
<rect x="163.9" y="405.0" width="3.2" height="3.2" fill="#2a4475"/>
<rect x="159.4" y="407.7" width="3.2" height="3.2" fill="#2a4475"/>
<rect x="162.4" y="408.9" width="3.2" height="3.2" fill="#2a4475"/>
<rect x="164.4" y="409.79999999999995" width="3.2" height="3.2" fill="#2a4475"/>
<rect x="166.4" y="413.5" width="3.2" height="3.2" fill="#2a4475"/>
<rect x="164.4" y="414.59999999999997" width="3.2" height="3.2" fill="#2a4475"/>
<rect x="158.9" y="415.59999999999997" width="3.2" height="3.2" fill="#2a4475"/>
<rect x="162.9" y="416.7" width="3.2" height="3.2" fill="#2a4475"/>
<rect x="161.4" y="418.29999999999995" width="3.2" height="3.2" fill="#2a4475"/>
<rect x="160.4" y="419.29999999999995" width="3.2" height="3.2" fill="#2a4475"/>
<line x1="177" y1="421.9" x2="185" y2="421.9" stroke="#b80c36" stroke-width="1.2"/>
<line x1="181" y1="419" x2="181" y2="425" stroke="#b80c36" stroke-width="1.0"/>
<line x1="178.8" y1="419" x2="183.2" y2="419" stroke="#b80c36" stroke-width="1.0"/>
<line x1="178.8" y1="425" x2="183.2" y2="425" stroke="#b80c36" stroke-width="1.0"/>
<line x1="188.2" y1="410" x2="195.8" y2="410" stroke="#2f4f86" stroke-width="1.2"/>
<line x1="192" y1="407" x2="192" y2="413" stroke="#2f4f86" stroke-width="1.0"/>
<line x1="189.8" y1="407" x2="194.2" y2="407" stroke="#2f4f86" stroke-width="1.0"/>
<line x1="189.8" y1="413" x2="194.2" y2="413" stroke="#2f4f86" stroke-width="1.0"/>
<circle cx="178.7" cy="416.6" r="1.75" fill="#8e0a2e"/>
<circle cx="183.4" cy="416.6" r="1.75" fill="#8e0a2e"/>
<circle cx="181" cy="419.7" r="1.75" fill="#8e0a2e"/>
<circle cx="179" cy="424" r="1.75" fill="#8e0a2e"/>
<circle cx="183" cy="424" r="1.75" fill="#8e0a2e"/>
<circle cx="178.5" cy="426.6" r="1.75" fill="#8e0a2e"/>
<circle cx="182" cy="426.6" r="1.75" fill="#8e0a2e"/>
<circle cx="179" cy="437.2" r="1.75" fill="#8e0a2e"/>
<circle cx="182.5" cy="439.9" r="1.75" fill="#8e0a2e"/>
<circle cx="181" cy="467.3" r="1.75" fill="#8e0a2e"/>
<rect x="191.9" y="400.7" width="3.2" height="3.2" fill="#2a4475"/>
<rect x="187.9" y="403.29999999999995" width="3.2" height="3.2" fill="#2a4475"/>
<rect x="190.4" y="404.9" width="3.2" height="3.2" fill="#2a4475"/>
<rect x="192.9" y="406.0" width="3.2" height="3.2" fill="#2a4475"/>
<rect x="187.9" y="405.9" width="3.2" height="3.2" fill="#2a4475"/>
<rect x="188.9" y="408.9" width="3.2" height="3.2" fill="#2a4475"/>
<rect x="191.9" y="408.9" width="3.2" height="3.2" fill="#2a4475"/>
<rect x="189.4" y="411.79999999999995" width="3.2" height="3.2" fill="#2a4475"/>
<rect x="190.9" y="414.4" width="3.2" height="3.2" fill="#2a4475"/>
<rect x="187.9" y="417.59999999999997" width="3.2" height="3.2" fill="#2a4475"/>
<rect x="191.9" y="419.7" width="3.2" height="3.2" fill="#2a4475"/>
<rect x="189.9" y="426.59999999999997" width="3.2" height="3.2" fill="#2a4475"/>
<line x1="205.79999999999998" y1="405.5" x2="213.4" y2="405.5" stroke="#b80c36" stroke-width="1.2"/>
<line x1="209.6" y1="402.5" x2="209.6" y2="410.2" stroke="#b80c36" stroke-width="1.0"/>
<line x1="207.4" y1="402.5" x2="211.79999999999998" y2="402.5" stroke="#b80c36" stroke-width="1.0"/>
<line x1="207.4" y1="410.2" x2="211.79999999999998" y2="410.2" stroke="#b80c36" stroke-width="1.0"/>
<line x1="217.39999999999998" y1="409" x2="225.0" y2="409" stroke="#2f4f86" stroke-width="1.2"/>
<line x1="221.2" y1="406" x2="221.2" y2="412" stroke="#2f4f86" stroke-width="1.0"/>
<line x1="219.0" y1="406" x2="223.39999999999998" y2="406" stroke="#2f4f86" stroke-width="1.0"/>
<line x1="219.0" y1="412" x2="223.39999999999998" y2="412" stroke="#2f4f86" stroke-width="1.0"/>
<circle cx="207.5" cy="402.8" r="1.75" fill="#8e0a2e"/>
<circle cx="212" cy="401.8" r="1.75" fill="#8e0a2e"/>
<circle cx="209.6" cy="407.6" r="1.75" fill="#8e0a2e"/>
<circle cx="208.5" cy="419.7" r="1.75" fill="#8e0a2e"/>
<circle cx="210" cy="422.9" r="1.75" fill="#8e0a2e"/>
<circle cx="210.5" cy="425.6" r="1.75" fill="#8e0a2e"/>
<circle cx="209" cy="428.2" r="1.75" fill="#8e0a2e"/>
<rect x="219.6" y="390.59999999999997" width="3.2" height="3.2" fill="#2a4475"/>
<rect x="219.6" y="398.59999999999997" width="3.2" height="3.2" fill="#2a4475"/>
<rect x="217.9" y="402.79999999999995" width="3.2" height="3.2" fill="#2a4475"/>
<rect x="220.9" y="402.79999999999995" width="3.2" height="3.2" fill="#2a4475"/>
<rect x="220.9" y="406.0" width="3.2" height="3.2" fill="#2a4475"/>
<rect x="217.6" y="409.2" width="3.2" height="3.2" fill="#2a4475"/>
<rect x="219.4" y="411.4" width="3.2" height="3.2" fill="#2a4475"/>
<rect x="217.9" y="413.4" width="3.2" height="3.2" fill="#2a4475"/>
<rect x="221.9" y="413.9" width="3.2" height="3.2" fill="#2a4475"/>
<rect x="218.4" y="417.59999999999997" width="3.2" height="3.2" fill="#2a4475"/>
<rect x="220.4" y="418.7" width="3.2" height="3.2" fill="#2a4475"/>
<rect x="218.9" y="421.29999999999995" width="3.2" height="3.2" fill="#2a4475"/>
<rect x="219.6" y="426.09999999999997" width="3.2" height="3.2" fill="#2a4475"/>
<line x1="234.8" y1="417.8" x2="243.2" y2="417.8" stroke="#b80c36" stroke-width="1.2"/>
<line x1="239" y1="414.9" x2="239" y2="420.7" stroke="#b80c36" stroke-width="1.0"/>
<line x1="236.8" y1="414.9" x2="241.2" y2="414.9" stroke="#b80c36" stroke-width="1.0"/>
<line x1="236.8" y1="420.7" x2="241.2" y2="420.7" stroke="#b80c36" stroke-width="1.0"/>
<line x1="246.0" y1="406" x2="253.60000000000002" y2="406" stroke="#2f4f86" stroke-width="1.2"/>
<line x1="249.8" y1="403" x2="249.8" y2="409" stroke="#2f4f86" stroke-width="1.0"/>
<line x1="247.60000000000002" y1="403" x2="252.0" y2="403" stroke="#2f4f86" stroke-width="1.0"/>
<line x1="247.60000000000002" y1="409" x2="252.0" y2="409" stroke="#2f4f86" stroke-width="1.0"/>
<circle cx="239" cy="405.9" r="1.75" fill="#8e0a2e"/>
<circle cx="238" cy="423.6" r="1.75" fill="#8e0a2e"/>
<circle cx="240" cy="425.3" r="1.75" fill="#8e0a2e"/>
<circle cx="238.5" cy="427.6" r="1.75" fill="#8e0a2e"/>
<circle cx="240.5" cy="436.8" r="1.75" fill="#8e0a2e"/>
<circle cx="237.5" cy="439.7" r="1.75" fill="#8e0a2e"/>
<circle cx="238.5" cy="452.4" r="1.75" fill="#8e0a2e"/>
<circle cx="238.5" cy="457.6" r="1.75" fill="#8e0a2e"/>
<rect x="248.20000000000002" y="396.59999999999997" width="3.2" height="3.2" fill="#2a4475"/>
<rect x="247.4" y="399.5" width="3.2" height="3.2" fill="#2a4475"/>
<rect x="248.9" y="402.4" width="3.2" height="3.2" fill="#2a4475"/>
<rect x="246.9" y="405.2" width="3.2" height="3.2" fill="#2a4475"/>
<rect x="249.9" y="406.4" width="3.2" height="3.2" fill="#2a4475"/>
<rect x="248.20000000000002" y="408.7" width="3.2" height="3.2" fill="#2a4475"/>
<rect x="246.9" y="416.79999999999995" width="3.2" height="3.2" fill="#2a4475"/>
<rect x="249.4" y="416.79999999999995" width="3.2" height="3.2" fill="#2a4475"/>
<rect x="248.20000000000002" y="420.2" width="3.2" height="3.2" fill="#2a4475"/>
<rect x="247.9" y="422.0" width="3.2" height="3.2" fill="#2a4475"/>
<rect x="248.20000000000002" y="444.7" width="3.2" height="3.2" fill="#2a4475"/>
<rect x="248.20000000000002" y="453.7" width="3.2" height="3.2" fill="#2a4475"/>
<line x1="264.1" y1="410.9" x2="272.1" y2="410.9" stroke="#b80c36" stroke-width="1.2"/>
<line x1="268.1" y1="408" x2="268.1" y2="414.3" stroke="#b80c36" stroke-width="1.0"/>
<line x1="265.90000000000003" y1="408" x2="270.3" y2="408" stroke="#b80c36" stroke-width="1.0"/>
<line x1="265.90000000000003" y1="414.3" x2="270.3" y2="414.3" stroke="#b80c36" stroke-width="1.0"/>
<line x1="275.2" y1="425.5" x2="282.8" y2="425.5" stroke="#2f4f86" stroke-width="1.2"/>
<line x1="279" y1="422.5" x2="279" y2="428.5" stroke="#2f4f86" stroke-width="1.0"/>
<line x1="276.8" y1="422.5" x2="281.2" y2="422.5" stroke="#2f4f86" stroke-width="1.0"/>
<line x1="276.8" y1="428.5" x2="281.2" y2="428.5" stroke="#2f4f86" stroke-width="1.0"/>
<circle cx="266.5" cy="405.7" r="1.75" fill="#8e0a2e"/>
<circle cx="269.5" cy="405.7" r="1.75" fill="#8e0a2e"/>
<circle cx="268.1" cy="408" r="1.75" fill="#8e0a2e"/>
<circle cx="268.1" cy="414.3" r="1.75" fill="#8e0a2e"/>
<circle cx="266.5" cy="424.1" r="1.75" fill="#8e0a2e"/>
<circle cx="269.5" cy="425.9" r="1.75" fill="#8e0a2e"/>
<circle cx="268" cy="428.2" r="1.75" fill="#8e0a2e"/>
<rect x="277.4" y="404.7" width="3.2" height="3.2" fill="#2a4475"/>
<rect x="276.4" y="415.0" width="3.2" height="3.2" fill="#2a4475"/>
<rect x="278.9" y="417.4" width="3.2" height="3.2" fill="#2a4475"/>
<rect x="275.9" y="419.09999999999997" width="3.2" height="3.2" fill="#2a4475"/>
<rect x="278.4" y="420.79999999999995" width="3.2" height="3.2" fill="#2a4475"/>
<rect x="277.4" y="422.5" width="3.2" height="3.2" fill="#2a4475"/>
<rect x="277.4" y="426.0" width="3.2" height="3.2" fill="#2a4475"/>
<rect x="277.4" y="431.79999999999995" width="3.2" height="3.2" fill="#2a4475"/>
<rect x="275.9" y="438.7" width="3.2" height="3.2" fill="#2a4475"/>
<rect x="279.4" y="438.7" width="3.2" height="3.2" fill="#2a4475"/>
<rect x="277.4" y="442.09999999999997" width="3.2" height="3.2" fill="#2a4475"/>
<rect x="277.4" y="444.5" width="3.2" height="3.2" fill="#2a4475"/>
<line x1="293.5" y1="427" x2="301.1" y2="427" stroke="#b80c36" stroke-width="1.2"/>
<line x1="297.3" y1="424" x2="297.3" y2="430" stroke="#b80c36" stroke-width="1.0"/>
<line x1="295.1" y1="424" x2="299.5" y2="424" stroke="#b80c36" stroke-width="1.0"/>
<line x1="295.1" y1="430" x2="299.5" y2="430" stroke="#b80c36" stroke-width="1.0"/>
<line x1="304.3" y1="425.6" x2="312.3" y2="425.6" stroke="#2f4f86" stroke-width="1.2"/>
<line x1="308.3" y1="421.2" x2="308.3" y2="430" stroke="#2f4f86" stroke-width="1.0"/>
<line x1="306.1" y1="421.2" x2="310.5" y2="421.2" stroke="#2f4f86" stroke-width="1.0"/>
<line x1="306.1" y1="430" x2="310.5" y2="430" stroke="#2f4f86" stroke-width="1.0"/>
<circle cx="295.5" cy="419" r="1.75" fill="#8e0a2e"/>
<circle cx="299" cy="417.4" r="1.75" fill="#8e0a2e"/>
<circle cx="296" cy="425" r="1.75" fill="#8e0a2e"/>
<circle cx="298.5" cy="426.7" r="1.75" fill="#8e0a2e"/>
<circle cx="297.5" cy="428.9" r="1.75" fill="#8e0a2e"/>
<circle cx="297.3" cy="432.7" r="1.75" fill="#8e0a2e"/>
<circle cx="297.3" cy="437.6" r="1.75" fill="#8e0a2e"/>
<circle cx="297.3" cy="445.3" r="1.75" fill="#8e0a2e"/>
<circle cx="297.3" cy="450.2" r="1.75" fill="#8e0a2e"/>
<circle cx="297.3" cy="464.3" r="1.75" fill="#8e0a2e"/>
<rect x="306.7" y="407.2" width="3.2" height="3.2" fill="#2a4475"/>
<rect x="304.9" y="421.79999999999995" width="3.2" height="3.2" fill="#2a4475"/>
<rect x="308.4" y="423.4" width="3.2" height="3.2" fill="#2a4475"/>
<rect x="306.7" y="430.0" width="3.2" height="3.2" fill="#2a4475"/>
<rect x="308.4" y="431.7" width="3.2" height="3.2" fill="#2a4475"/>
<rect x="307.4" y="436.59999999999997" width="3.2" height="3.2" fill="#2a4475"/>
<rect x="304.9" y="439.9" width="3.2" height="3.2" fill="#2a4475"/>
<rect x="307.9" y="442.09999999999997" width="3.2" height="3.2" fill="#2a4475"/>
<rect x="305.9" y="443.7" width="3.2" height="3.2" fill="#2a4475"/>
<rect x="308.4" y="445.4" width="3.2" height="3.2" fill="#2a4475"/>
<rect x="304.9" y="450.29999999999995" width="3.2" height="3.2" fill="#2a4475"/>
<line x1="322.59999999999997" y1="437.3" x2="330.2" y2="437.3" stroke="#b80c36" stroke-width="1.2"/>
<line x1="326.4" y1="434.9" x2="326.4" y2="445.3" stroke="#b80c36" stroke-width="1.0"/>
<line x1="324.2" y1="434.9" x2="328.59999999999997" y2="434.9" stroke="#b80c36" stroke-width="1.0"/>
<line x1="324.2" y1="445.3" x2="328.59999999999997" y2="445.3" stroke="#b80c36" stroke-width="1.0"/>
<line x1="332.3" y1="429.4" x2="341.3" y2="429.4" stroke="#2f4f86" stroke-width="1.2"/>
<line x1="336.8" y1="426.4" x2="336.8" y2="432.4" stroke="#2f4f86" stroke-width="1.0"/>
<line x1="334.6" y1="426.4" x2="339.0" y2="426.4" stroke="#2f4f86" stroke-width="1.0"/>
<line x1="334.6" y1="432.4" x2="339.0" y2="432.4" stroke="#2f4f86" stroke-width="1.0"/>
<circle cx="326.4" cy="425.6" r="1.75" fill="#8e0a2e"/>
<circle cx="324.5" cy="437.1" r="1.75" fill="#8e0a2e"/>
<circle cx="328" cy="438.7" r="1.75" fill="#8e0a2e"/>
<circle cx="325" cy="450.2" r="1.75" fill="#8e0a2e"/>
<circle cx="328" cy="451.9" r="1.75" fill="#8e0a2e"/>
<circle cx="326" cy="456.3" r="1.75" fill="#8e0a2e"/>
<circle cx="329" cy="457.9" r="1.75" fill="#8e0a2e"/>
<circle cx="326.4" cy="464.5" r="1.75" fill="#8e0a2e"/>
<rect x="334.4" y="417.4" width="3.2" height="3.2" fill="#2a4475"/>
<rect x="335.9" y="419.59999999999997" width="3.2" height="3.2" fill="#2a4475"/>
<rect x="334.9" y="422.29999999999995" width="3.2" height="3.2" fill="#2a4475"/>
<rect x="333.9" y="424.5" width="3.2" height="3.2" fill="#2a4475"/>
<rect x="335.9" y="430.0" width="3.2" height="3.2" fill="#2a4475"/>
<rect x="336.9" y="433.29999999999995" width="3.2" height="3.2" fill="#2a4475"/>
<rect x="337.4" y="436.0" width="3.2" height="3.2" fill="#2a4475"/>
<rect x="334.9" y="441.0" width="3.2" height="3.2" fill="#2a4475"/>
<rect x="333.4" y="444.29999999999995" width="3.2" height="3.2" fill="#2a4475"/>
<rect x="337.4" y="444.79999999999995" width="3.2" height="3.2" fill="#2a4475"/>
<rect x="335.4" y="446.5" width="3.2" height="3.2" fill="#2a4475"/>
<rect x="334.4" y="449.7" width="3.2" height="3.2" fill="#2a4475"/>
<rect x="336.4" y="453.59999999999997" width="3.2" height="3.2" fill="#2a4475"/>
<text x="0" y="0" font-size="10.6" font-weight="bold" fill="#111" stroke="#111" stroke-width="0.22" transform="translate(7 529.8) scale(0.98 1.1)">E</text>
<text x="122.9" y="538.5" font-size="10.05" font-weight="bold" text-anchor="middle" fill="#111" stroke="#111" stroke-width="0.22">CML34+ Cells [w/o MSC]</text>
<line x1="55.0" y1="544.5" x2="55.0" y2="637" stroke="#111" stroke-width="1.5"/>
<line x1="52" y1="637" x2="191.3" y2="637" stroke="#111" stroke-width="1.3"/>
<line x1="52" y1="637.0" x2="55.0" y2="637.0" stroke="#111" stroke-width="1.0"/>
<text x="49" y="639.8" font-size="8" text-anchor="end" fill="#111" stroke="#111" stroke-width="0.22">0</text>
<line x1="52" y1="607.0" x2="55.0" y2="607.0" stroke="#111" stroke-width="1.0"/>
<text x="49" y="609.8" font-size="8" text-anchor="end" fill="#111" stroke="#111" stroke-width="0.22">50</text>
<line x1="52" y1="577.0" x2="55.0" y2="577.0" stroke="#111" stroke-width="1.0"/>
<text x="49" y="579.8" font-size="8" text-anchor="end" fill="#111" stroke="#111" stroke-width="0.22">100</text>
<line x1="52" y1="547.0" x2="55.0" y2="547.0" stroke="#111" stroke-width="1.0"/>
<text x="49" y="549.8" font-size="8" text-anchor="end" fill="#111" stroke="#111" stroke-width="0.22">150</text>
<text x="30.3" y="591.3" font-size="9.0" text-anchor="middle" fill="#111" stroke="#111" stroke-width="0.22" transform="rotate(-90 30.3 591.3)">% CFC relative to control</text>
<rect x="62.2" y="577.0" width="10.8" height="60.0" fill="#a5002c" stroke="#1a1a2a" stroke-opacity="0.35" stroke-width="0.6"/>
<rect x="76.6" y="583.0" width="10.8" height="54.0" fill="#2f4c7c" stroke="#1a1a2a" stroke-opacity="0.35" stroke-width="0.6"/>
<line x1="82.0" y1="583.0" x2="82.0" y2="578.8" stroke="#222" stroke-width="1.2"/>
<line x1="79.5" y1="578.8" x2="84.5" y2="578.8" stroke="#222" stroke-width="1.2"/>
<rect x="91.1" y="596.5" width="10.8" height="40.5" fill="#68a843" stroke="#1a1a2a" stroke-opacity="0.35" stroke-width="0.6"/>
<line x1="96.5" y1="596.5" x2="96.5" y2="595.9" stroke="#222" stroke-width="1.2"/>
<line x1="94.0" y1="595.9" x2="99.0" y2="595.9" stroke="#222" stroke-width="1.2"/>
<rect x="105.5" y="576.4" width="10.8" height="60.60000000000002" fill="#52236a" stroke="#1a1a2a" stroke-opacity="0.35" stroke-width="0.6"/>
<line x1="110.9" y1="576.4" x2="110.9" y2="574.0" stroke="#222" stroke-width="1.2"/>
<line x1="108.4" y1="574.0" x2="113.4" y2="574.0" stroke="#222" stroke-width="1.2"/>
<rect x="129.6" y="603.7" width="10.8" height="33.299999999999955" fill="#a5002c" stroke="#1a1a2a" stroke-opacity="0.35" stroke-width="0.6"/>
<line x1="135.0" y1="603.7" x2="135.0" y2="600.7" stroke="#222" stroke-width="1.2"/>
<line x1="132.5" y1="600.7" x2="137.5" y2="600.7" stroke="#222" stroke-width="1.2"/>
<rect x="144.1" y="604.6" width="10.8" height="32.39999999999998" fill="#2f4c7c" stroke="#1a1a2a" stroke-opacity="0.35" stroke-width="0.6"/>
<line x1="149.5" y1="604.6" x2="149.5" y2="599.8000000000001" stroke="#222" stroke-width="1.2"/>
<line x1="147.0" y1="599.8000000000001" x2="152.0" y2="599.8000000000001" stroke="#222" stroke-width="1.2"/>
<rect x="158.6" y="615.4" width="10.8" height="21.600000000000023" fill="#68a843" stroke="#1a1a2a" stroke-opacity="0.35" stroke-width="0.6"/>
<line x1="164.0" y1="615.4" x2="164.0" y2="614.1999999999999" stroke="#222" stroke-width="1.2"/>
<line x1="161.5" y1="614.1999999999999" x2="166.5" y2="614.1999999999999" stroke="#222" stroke-width="1.2"/>
<rect x="173.1" y="605.2" width="10.8" height="31.799999999999955" fill="#52236a" stroke="#1a1a2a" stroke-opacity="0.35" stroke-width="0.6"/>
<line x1="66.4" y1="561.5" x2="95.6" y2="561.5" stroke="#111" stroke-width="1.15"/>
<line x1="66.4" y1="557.5" x2="66.4" y2="565.5" stroke="#111" stroke-width="1.15"/>
<line x1="95.6" y1="557.5" x2="95.6" y2="565.5" stroke="#111" stroke-width="1.15"/>
<circle cx="81.0" cy="555.7" r="1.1" fill="#111"/>
<line x1="135.4" y1="591.5" x2="164.8" y2="591.5" stroke="#111" stroke-width="1.15"/>
<line x1="135.4" y1="587.5" x2="135.4" y2="595.5" stroke="#111" stroke-width="1.15"/>
<line x1="164.8" y1="587.5" x2="164.8" y2="595.5" stroke="#111" stroke-width="1.15"/>
<circle cx="150.10000000000002" cy="585.7" r="1.1" fill="#111"/>
<line x1="89" y1="637" x2="89" y2="640.5" stroke="#111" stroke-width="1.0"/>
<text x="93" y="648.5" font-size="8.7" text-anchor="end" fill="#111" stroke="#111" stroke-width="0.22" transform="rotate(-45 93 648.5)">Ctrl</text>
<line x1="157" y1="637" x2="157" y2="640.5" stroke="#111" stroke-width="1.0"/>
<text x="161" y="648.5" font-size="8.7" text-anchor="end" fill="#111" stroke="#111" stroke-width="0.22" transform="rotate(-45 161 648.5)">Nil</text>
<rect x="189.5" y="548.3" width="10.7" height="5.5" fill="#a5002c"/>
<text x="202.5" y="553.8" font-size="7.9" text-anchor="start" fill="#111" stroke="#111" stroke-width="0.22">Ctrl siRNA</text>
<rect x="189.5" y="558.6" width="10.7" height="5.5" fill="#2f4c7c"/>
<text x="202.5" y="564.1" font-size="7.9" text-anchor="start" fill="#111" stroke="#111" stroke-width="0.22">FZD1 siRNA</text>
<rect x="189.5" y="569.0" width="10.7" height="5.5" fill="#68a843"/>
<text x="202.5" y="574.5" font-size="7.9" text-anchor="start" fill="#111" stroke="#111" stroke-width="0.22">FZD4 siRNA</text>
<rect x="189.5" y="579.3" width="10.7" height="5.5" fill="#52236a"/>
<text x="202.5" y="584.8" font-size="7.9" text-anchor="start" fill="#111" stroke="#111" stroke-width="0.22">FZD5 siRNA</text>
<text x="0" y="0" font-size="10.6" font-weight="bold" fill="#111" stroke="#111" stroke-width="0.22" transform="translate(277 529.8) scale(0.98 1.1)">F</text>
<text x="393.1" y="538.5" font-size="10.05" font-weight="bold" text-anchor="middle" fill="#111" stroke="#111" stroke-width="0.22">CML34+ Cells [w/ MSC]</text>
<line x1="325.0" y1="544.5" x2="325.0" y2="637" stroke="#111" stroke-width="1.5"/>
<line x1="322" y1="637" x2="461.3" y2="637" stroke="#111" stroke-width="1.3"/>
<line x1="322" y1="637.0" x2="325.0" y2="637.0" stroke="#111" stroke-width="1.0"/>
<text x="319" y="639.8" font-size="8" text-anchor="end" fill="#111" stroke="#111" stroke-width="0.22">0</text>
<line x1="322" y1="607.0" x2="325.0" y2="607.0" stroke="#111" stroke-width="1.0"/>
<text x="319" y="609.8" font-size="8" text-anchor="end" fill="#111" stroke="#111" stroke-width="0.22">50</text>
<line x1="322" y1="577.0" x2="325.0" y2="577.0" stroke="#111" stroke-width="1.0"/>
<text x="319" y="579.8" font-size="8" text-anchor="end" fill="#111" stroke="#111" stroke-width="0.22">100</text>
<line x1="322" y1="547.0" x2="325.0" y2="547.0" stroke="#111" stroke-width="1.0"/>
<text x="319" y="549.8" font-size="8" text-anchor="end" fill="#111" stroke="#111" stroke-width="0.22">150</text>
<text x="300.3" y="591.3" font-size="9.0" text-anchor="middle" fill="#111" stroke="#111" stroke-width="0.22" transform="rotate(-90 300.3 591.3)">% CFC relative to control</text>
<rect x="332.2" y="577.0" width="10.8" height="60.0" fill="#a5002c" stroke="#1a1a2a" stroke-opacity="0.35" stroke-width="0.6"/>
<rect x="346.6" y="593.8" width="10.8" height="43.200000000000045" fill="#2f4c7c" stroke="#1a1a2a" stroke-opacity="0.35" stroke-width="0.6"/>
<line x1="352.0" y1="593.8" x2="352.0" y2="590.5" stroke="#222" stroke-width="1.2"/>
<line x1="349.5" y1="590.5" x2="354.5" y2="590.5" stroke="#222" stroke-width="1.2"/>
<rect x="361.1" y="598.6" width="10.8" height="38.39999999999998" fill="#68a843" stroke="#1a1a2a" stroke-opacity="0.35" stroke-width="0.6"/>
<line x1="366.5" y1="598.6" x2="366.5" y2="595.0" stroke="#222" stroke-width="1.2"/>
<line x1="364.0" y1="595.0" x2="369.0" y2="595.0" stroke="#222" stroke-width="1.2"/>
<rect x="375.5" y="579.4" width="10.8" height="57.60000000000002" fill="#52236a" stroke="#1a1a2a" stroke-opacity="0.35" stroke-width="0.6"/>
<line x1="380.9" y1="579.4" x2="380.9" y2="578.1999999999999" stroke="#222" stroke-width="1.2"/>
<line x1="378.4" y1="578.1999999999999" x2="383.4" y2="578.1999999999999" stroke="#222" stroke-width="1.2"/>
<rect x="399.6" y="598.3" width="10.8" height="38.700000000000045" fill="#a5002c" stroke="#1a1a2a" stroke-opacity="0.35" stroke-width="0.6"/>
<line x1="405.0" y1="598.3" x2="405.0" y2="594.6999999999999" stroke="#222" stroke-width="1.2"/>
<line x1="402.5" y1="594.6999999999999" x2="407.5" y2="594.6999999999999" stroke="#222" stroke-width="1.2"/>
<rect x="414.1" y="604.3" width="10.8" height="32.700000000000045" fill="#2f4c7c" stroke="#1a1a2a" stroke-opacity="0.35" stroke-width="0.6"/>
<line x1="419.5" y1="604.3" x2="419.5" y2="601.3" stroke="#222" stroke-width="1.2"/>
<line x1="417.0" y1="601.3" x2="422.0" y2="601.3" stroke="#222" stroke-width="1.2"/>
<rect x="428.6" y="616.3" width="10.8" height="20.700000000000045" fill="#68a843" stroke="#1a1a2a" stroke-opacity="0.35" stroke-width="0.6"/>
<line x1="434.0" y1="616.3" x2="434.0" y2="609.6999999999999" stroke="#222" stroke-width="1.2"/>
<line x1="431.5" y1="609.6999999999999" x2="436.5" y2="609.6999999999999" stroke="#222" stroke-width="1.2"/>
<rect x="443.1" y="598.3" width="10.8" height="38.700000000000045" fill="#52236a" stroke="#1a1a2a" stroke-opacity="0.35" stroke-width="0.6"/>
<line x1="448.5" y1="598.3" x2="448.5" y2="594.6999999999999" stroke="#222" stroke-width="1.2"/>
<line x1="446.0" y1="594.6999999999999" x2="451.0" y2="594.6999999999999" stroke="#222" stroke-width="1.2"/>
<line x1="337.4" y1="556.5" x2="365.8" y2="556.5" stroke="#111" stroke-width="1.15"/>
<line x1="337.4" y1="552.5" x2="337.4" y2="560.5" stroke="#111" stroke-width="1.15"/>
<line x1="365.8" y1="552.5" x2="365.8" y2="560.5" stroke="#111" stroke-width="1.15"/>
<circle cx="351.6" cy="550.5" r="1.1" fill="#111"/>
<line x1="337.4" y1="568.5" x2="352.9" y2="568.5" stroke="#111" stroke-width="1.15"/>
<line x1="337.4" y1="564.5" x2="337.4" y2="572.5" stroke="#111" stroke-width="1.15"/>
<line x1="352.9" y1="564.5" x2="352.9" y2="572.5" stroke="#111" stroke-width="1.15"/>
<circle cx="345.15" cy="562.7" r="1.1" fill="#111"/>
<line x1="405.5" y1="584.5" x2="434.5" y2="584.5" stroke="#111" stroke-width="1.15"/>
<line x1="405.5" y1="580.5" x2="405.5" y2="588.5" stroke="#111" stroke-width="1.15"/>
<line x1="434.5" y1="580.5" x2="434.5" y2="588.5" stroke="#111" stroke-width="1.15"/>
<circle cx="420.0" cy="578.8" r="1.1" fill="#111"/>
<line x1="359" y1="637" x2="359" y2="640.5" stroke="#111" stroke-width="1.0"/>
<text x="363" y="648.5" font-size="8.7" text-anchor="end" fill="#111" stroke="#111" stroke-width="0.22" transform="rotate(-45 363 648.5)">Ctrl</text>
<line x1="427" y1="637" x2="427" y2="640.5" stroke="#111" stroke-width="1.0"/>
<text x="431" y="648.5" font-size="8.7" text-anchor="end" fill="#111" stroke="#111" stroke-width="0.22" transform="rotate(-45 431 648.5)">Nil</text>
<rect x="455" y="545.6" width="10.7" height="5.5" fill="#a5002c"/>
<text x="468" y="551.1" font-size="7.9" text-anchor="start" fill="#111" stroke="#111" stroke-width="0.22">Ctrl siRNA</text>
<rect x="455" y="556.0" width="10.7" height="5.5" fill="#2f4c7c"/>
<text x="468" y="561.5" font-size="7.9" text-anchor="start" fill="#111" stroke="#111" stroke-width="0.22">FZD1 siRNA</text>
<rect x="455" y="566.3" width="10.7" height="5.5" fill="#68a843"/>
<text x="468" y="571.8" font-size="7.9" text-anchor="start" fill="#111" stroke="#111" stroke-width="0.22">FZD4 siRNA</text>
<rect x="455" y="576.6" width="10.7" height="5.5" fill="#52236a"/>
<text x="468" y="582.1" font-size="7.9" text-anchor="start" fill="#111" stroke="#111" stroke-width="0.22">FZD5 siRNA</text><rect x="0.75" y="0.75" width="518.5" height="662.5" fill="none" stroke="#000" stroke-width="1.5"/></svg>
</body></html>
